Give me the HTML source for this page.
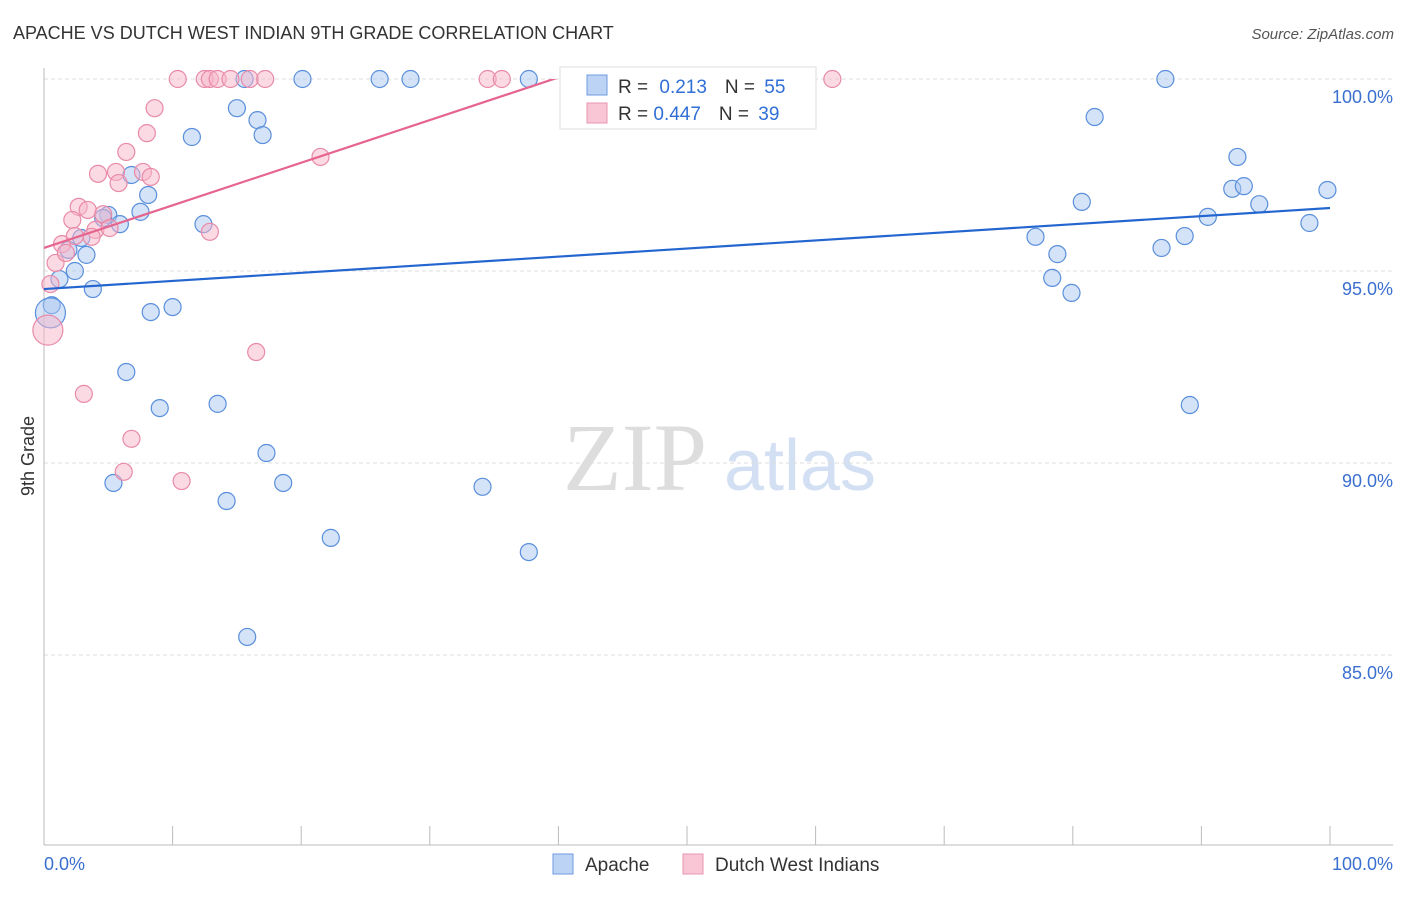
<!DOCTYPE html>
<html><head><meta charset="utf-8"><style>
body{margin:0;background:#fff;font-family:"Liberation Sans",sans-serif}
</style></head><body>
<svg id="chart" width="1406" height="892" xmlns="http://www.w3.org/2000/svg">
<text x="13" y="39" font-size="18" fill="#333">APACHE VS DUTCH WEST INDIAN 9TH GRADE CORRELATION CHART</text>
<text x="1394" y="39" font-size="15" fill="#555" font-style="italic" text-anchor="end">Source: ZipAtlas.com</text>
<g>
<text x="635" y="490" font-size="96" fill="#ddd" font-family="Liberation Serif,serif" text-anchor="middle">ZIP</text>
<text x="800" y="490" font-size="72" fill="#d3e0f3" text-anchor="middle">atlas</text>
</g>
<g id="grid"></g>
<g id="axes"></g>
<g id="marks"></g>
<g id="lines"></g>
<text transform="translate(34,456) rotate(-90)" font-size="18" fill="#333" text-anchor="middle">9th Grade</text>
<g>
<rect x="560" y="67" width="256" height="62" fill="#fff" stroke="#ddd"/>
<rect x="587" y="75" width="20" height="20" fill="#bcd3f5" stroke="#6f9be0"/>
<rect x="587" y="103" width="20" height="20" fill="#f9c6d5" stroke="#e896b0"/>
<text x="618" y="93" font-size="19" fill="#333">R = <tspan fill="#2f6fd6" dx="6">0.213</tspan><tspan dx="18" fill="#333">N = </tspan><tspan fill="#2f6fd6" dx="4">55</tspan></text>
<text x="618" y="120" font-size="19" fill="#333">R = <tspan fill="#2f6fd6">0.447</tspan><tspan dx="18" fill="#333">N = </tspan><tspan fill="#2f6fd6" dx="4">39</tspan></text>
</g>
<g>
<rect x="553" y="854" width="20" height="20" fill="#bcd3f5" stroke="#6f9be0"/>
<text x="585" y="871" font-size="19" fill="#333">Apache</text>
<rect x="683" y="854" width="20" height="20" fill="#f9c6d5" stroke="#e896b0"/>
<text x="715" y="871" font-size="19" fill="#333">Dutch West Indians</text>
</g>
</svg>
<script>
const yTicks=[100,95,90,85];
const yTickLabels=["100.0%","95.0%","90.0%","85.0%"];
const xTickCount=[0,10,20,30,40,50,60,70,80,90,100];
const apacheX=[15.6,20.1,26.1,28.5,37.7,87.2,15.0,11.5,16.6,17.0,81.7,6.8,8.1,7.5,5.0,4.6,5.9,12.4,2.9,1.9,3.3,2.4,1.2,3.8,0.6,0.5,8.3,10.0,6.4,9.0,13.5,17.3,5.4,18.6,14.2,34.1,22.3,37.7,15.8,80.7,77.1,78.8,78.4,79.9,86.9,88.7,90.5,92.4,92.8,93.3,94.5,98.4,99.8,89.1];
const apacheY=[100,100,100,100,100,100,99.24,98.49,98.93,98.54,99.01,97.5,96.98,96.54,96.46,96.38,96.22,96.22,95.86,95.55,95.42,95.0,94.79,94.53,94.11,93.91,93.93,94.06,92.37,91.43,91.54,90.26,89.48,89.48,89.01,89.38,88.05,87.68,85.47,96.8,95.89,95.44,94.82,94.43,95.6,95.91,96.41,97.14,97.97,97.21,96.74,96.25,97.11,91.51];
const dutchX=[10.4,12.5,12.9,13.5,14.5,16.0,17.2,34.5,35.6,61.3,8.6,8.0,6.4,21.5,4.2,5.6,7.7,5.8,8.3,2.7,3.4,2.2,4.6,4.0,3.7,5.1,12.9,1.4,2.4,0.9,1.7,0.5,0.3,16.5,3.1,6.8,6.2,10.7];
const dutchY=[100,100,100,100,100,100,100,100,100,100,99.24,98.59,98.1,97.97,97.53,97.58,97.58,97.29,97.45,96.67,96.59,96.33,96.48,96.07,95.89,96.12,96.02,95.7,95.91,95.21,95.47,94.66,93.46,92.89,91.8,90.63,89.77,89.53];
const apacheLarge=[25];
const dutchLarge=[32];
const apacheTrend=[94.53,96.64];
const dutchTrend=[95.6,106.7];
const NS="http://www.w3.org/2000/svg";
const xs=v=>44+v*12.86, ys=v=>79+(100-v)*38.4;
function mk(t,a,p){const e=document.createElementNS(NS,t);for(const k in a)e.setAttribute(k,a[k]);p.appendChild(e);return e;}
const grid=document.getElementById('grid'),axes=document.getElementById('axes'),marks=document.getElementById('marks'),lines=document.getElementById('lines');
yTicks.forEach((t,i)=>{
 const l=mk('line',{x1:44,x2:1393,y1:ys(t),y2:ys(t),stroke:'#ddd','stroke-dasharray':'4,3'},grid);
 
 
 const tx=mk('text',{x:1393,y:ys(t)+24,'font-size':18,fill:'#3a6fd0','text-anchor':'end'},axes);
 tx.textContent=yTickLabels[i];
 
 
});
const ax=mk('line',{x1:44,x2:44,y1:68,y2:845,stroke:'#bbb'},axes);


const bx=mk('line',{x1:44,x2:1393,y1:845,y2:845,stroke:'#bbb'},axes);


xTickCount.forEach(t=>{
 const l=mk('line',{x1:xs(t),x2:xs(t),y1:826,y2:845,stroke:'#bbb'},axes);
 
 
});
const x0=mk('text',{x:44,y:870,'font-size':18,fill:'#3a6fd0'},axes);x0.textContent='0.0%';


const x1=mk('text',{x:1393,y:870,'font-size':18,fill:'#3a6fd0','text-anchor':'end'},axes);x1.textContent='100.0%';


function pts(X,Y,L,fill,stroke,name){X.forEach((x,i)=>{
 const c=mk('circle',{cx:xs(x),cy:ys(Y[i]),r:L.includes(i)?15:8.5,fill:fill,'fill-opacity':0.5,stroke:stroke,'stroke-width':1.2},marks);
 
 
});}
pts(apacheX,apacheY,apacheLarge,'#aac7f0','#5a8fdc','apache-point');
pts(dutchX,dutchY,dutchLarge,'#f7b6ca','#e88aa8','dutch-point');
const cp=mk('clipPath',{id:'clipTop'},lines);mk('rect',{x:44,y:79,width:1300,height:770},cp);
const tb=mk('line',{x1:xs(0),y1:ys(apacheTrend[0]),x2:xs(100),y2:ys(apacheTrend[1]),stroke:'#2466d0','stroke-width':2.2},lines);


const tp=mk('line',{x1:xs(0),y1:ys(dutchTrend[0]),x2:xs(100),y2:ys(dutchTrend[1]),stroke:'#e5658f','stroke-width':2.2,'clip-path':'url(#clipTop)'},lines);


</script>
</body></html>
